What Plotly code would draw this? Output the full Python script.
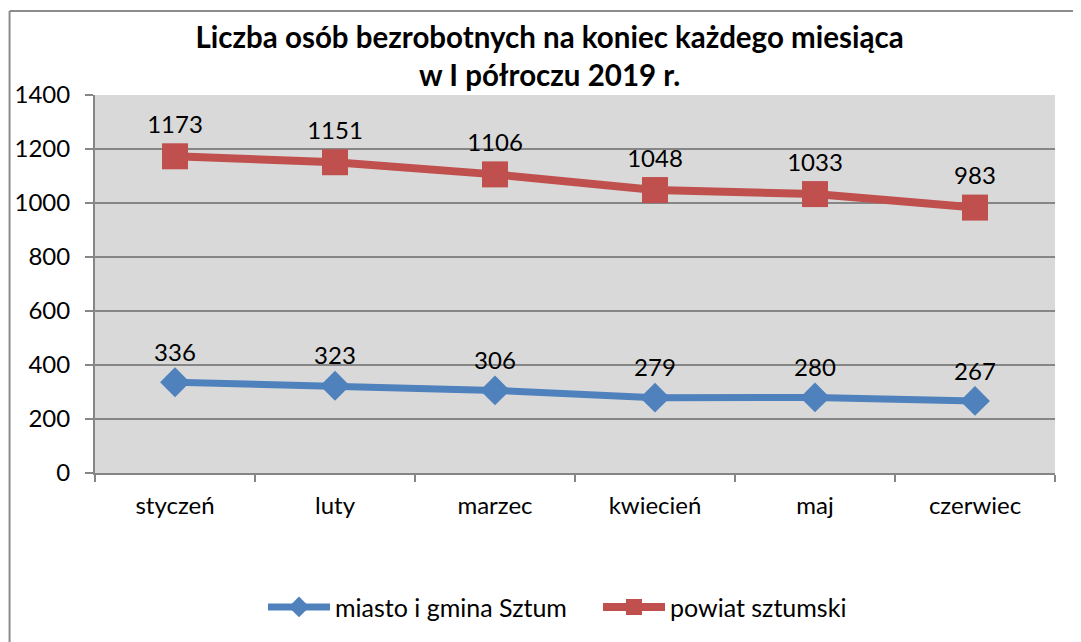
import plotly.graph_objects as go

months = ["styczeń", "luty", "marzec", "kwiecień", "maj", "czerwiec"]
miasto = [336, 323, 306, 279, 280, 267]
powiat = [1173, 1151, 1106, 1048, 1033, 983]
series_names = ["miasto i gmina Sztum", "powiat sztumski"]
title_text = "<b>Liczba osób bezrobotnych na koniec każdego miesiąca<br>w I półroczu 2019 r.</b>"

FONT = "Lato, 'Open Sans', sans-serif"

fig = go.Figure()
fig.add_trace(go.Scatter(
    x=months, y=miasto, name=series_names[0], mode="lines+markers+text",
    text=[str(v) for v in miasto], textposition="top center",
    textfont=dict(size=24, color="black", family=FONT),
    line=dict(color="#4F81BD", width=7),
    marker=dict(symbol="diamond", size=23, color="#4F81BD"),
))
fig.add_trace(go.Scatter(
    x=months, y=powiat, name=series_names[1], mode="lines+markers+text",
    text=[str(v) for v in powiat], textposition="top center",
    textfont=dict(size=24, color="black", family=FONT),
    line=dict(color="#C0504D", width=8),
    marker=dict(symbol="square", size=26, color="#C0504D"),
))

# page body adds an 8px offset; margins compensate
fig.update_layout(
    width=1081, height=642,
    margin=dict(l=87, r=34, t=87, b=177, autoexpand=False),
    paper_bgcolor="white", plot_bgcolor="#D9D9D9",
    font=dict(family=FONT, size=24, color="black"),
    title=dict(text=title_text, x=0.501, xanchor="center", y=0.938, yanchor="middle",
               font=dict(size=29.5, family=FONT, color="black")),
    showlegend=True,
    legend=dict(orientation="h", x=0.175, xanchor="left", y=-0.355, yanchor="middle",
                font=dict(size=25, family=FONT), itemwidth=62, entrywidth=258,
                bgcolor="rgba(0,0,0,0)"),
    xaxis=dict(range=[-0.5, 5.5], automargin=False, showgrid=False, ticks="outside",
               tickson="boundaries", ticklen=7,
               tickcolor="#868686", tickwidth=2, showline=True, linecolor="#868686",
               linewidth=2, tickfont=dict(size=24), ticklabelstandoff=10),
    yaxis=dict(range=[0, 1400], dtick=200, automargin=False, showgrid=True,
               gridcolor="#868686", gridwidth=2,
               ticks="outside", ticklen=8, tickcolor="#868686", tickwidth=2,
               showline=True, linecolor="#868686", linewidth=2, zeroline=False,
               tickfont=dict(size=24), ticklabelstandoff=10),
)

# Outer chart border (top and left edges visible in the reference)
fig.add_shape(type="line", xref="paper", yref="paper", x0=-0.089, x1=1.05, y0=1.222, y1=1.222,
              line=dict(color="#8C8C8C", width=2))
fig.add_shape(type="line", xref="paper", yref="paper", x0=-0.089, x1=-0.089, y0=1.222, y1=-0.48,
              line=dict(color="#8C8C8C", width=2))

fig.write_html("out.html")
